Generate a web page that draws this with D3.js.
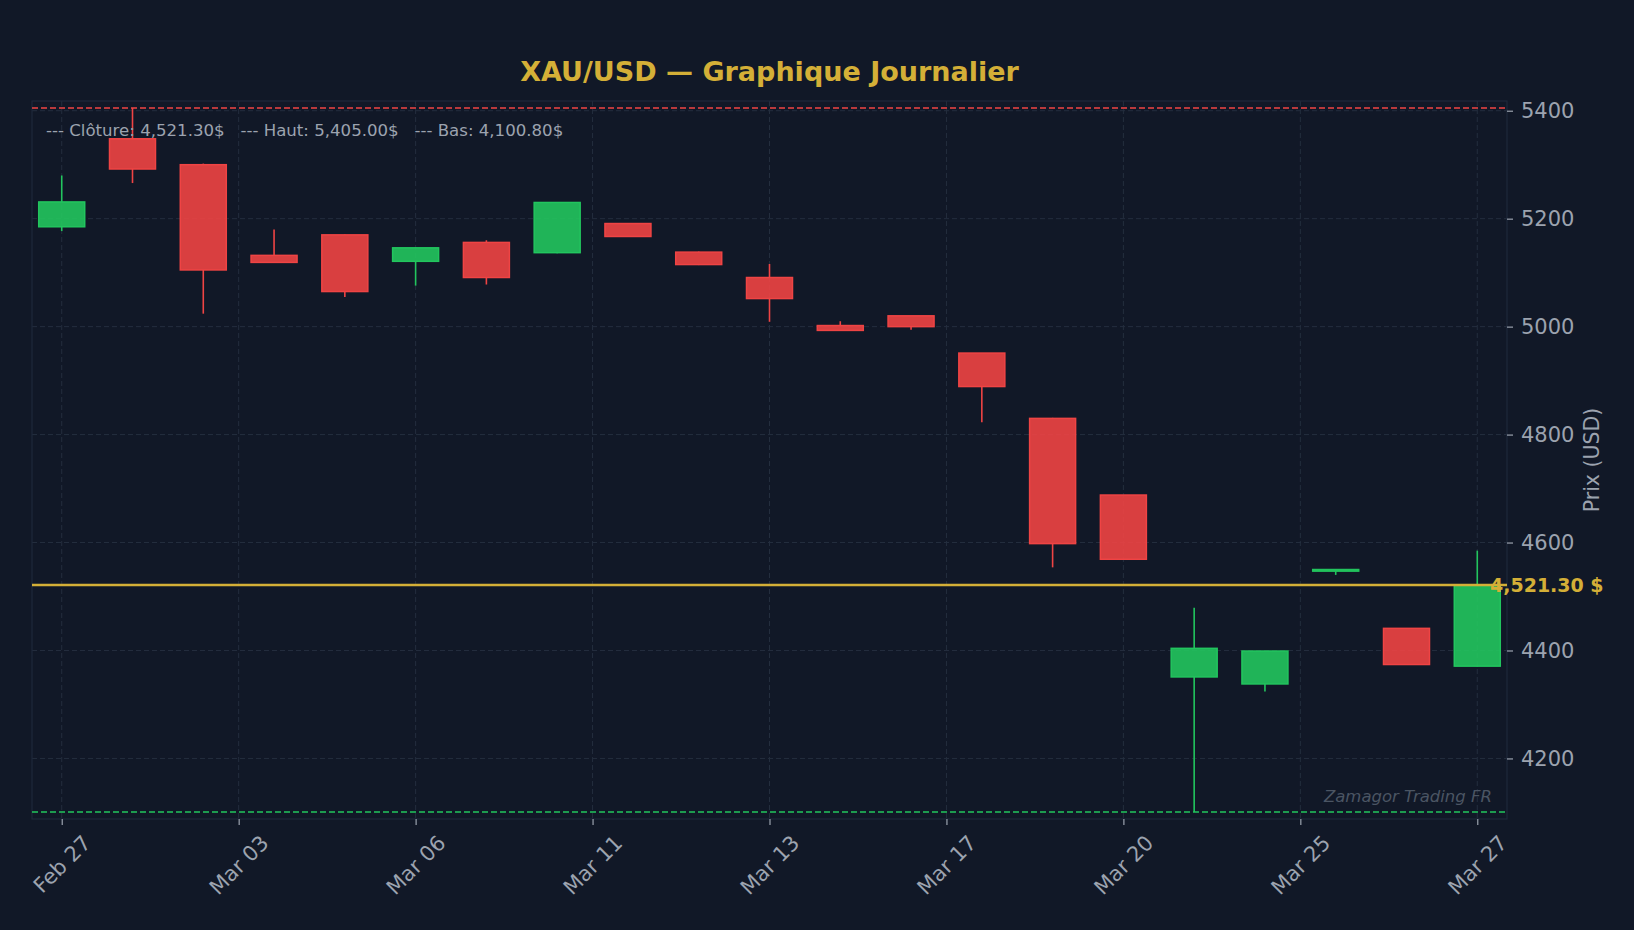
<!DOCTYPE html>
<html>
<head>
<meta charset="utf-8">
<script src="https://cdn.jsdelivr.net/npm/d3@7"></script>
<style>
  html, body { margin: 0; padding: 0; background: #111827; }
  svg { display: block; font-family: 'DejaVu Sans', sans-serif; }
  text { white-space: pre; }
</style>
</head>
<body>
<svg class="canvas" width="1634" height="930"></svg>
<script>
'use strict'

// Daily sessions, Feb 27 -> Mar 27
const dates = ['Feb 27', 'Mar 02', 'Mar 03', 'Mar 04', 'Mar 05', 'Mar 06', 'Mar 09',
  'Mar 10', 'Mar 11', 'Mar 12', 'Mar 13', 'Mar 16', 'Mar 17', 'Mar 18', 'Mar 19',
  'Mar 20', 'Mar 23', 'Mar 24', 'Mar 25', 'Mar 26', 'Mar 27']
const opens  = [5185, 5348, 5300, 5132, 5170, 5121, 5156, 5137, 5191, 5138, 5091,
  5002, 5020, 4951, 4830, 4688, 4351, 4338, 4547, 4441, 4371]
const highs  = [5280, 5405, 5302, 5180, 5171, 5147, 5160, 5231, 5192, 5139, 5116,
  5010, 5020, 4951, 4831, 4688, 4479, 4399, 4550, 4441, 4585]
const lows   = [5177, 5266, 5024, 5118, 5055, 5076, 5078, 5136, 5166, 5114, 5009,
  4992, 4994, 4823, 4554, 4568, 4100.8, 4324, 4540, 4374, 4370]
const closes = [5231, 5292, 5105, 5119, 5065, 5146, 5091, 5230, 5167, 5115, 5052,
  4993, 5000, 4889, 4598, 4569, 4404, 4399, 4550, 4374, 4521.3]

const tickPositions = [0, 2.5, 5, 7.5, 10, 12.5, 15, 17.5, 20]
const tickLabels = ['Feb 27', 'Mar 03', 'Mar 06', 'Mar 11', 'Mar 13', 'Mar 17', 'Mar 20', 'Mar 25', 'Mar 27']
const priceTicks = [4200, 4400, 4600, 4800, 5000, 5200, 5400]

const lastClose = 4521.30, periodHigh = 5405.00, periodLow = 4100.80

const candles = dates.map((date, i) => ({
  i, date, open: opens[i], high: highs[i], low: lows[i], close: closes[i]
}))

const plotLeft = 32, plotRight = 1507, plotTop = 101, plotBottom = 819
const up = '#22c55e', down = '#ef4444', gold = '#d4af37', muted = '#9ca3af', gridColor = '#242e3e'
const tickFont = 21

const x = d3.scaleLinear().domain([-0.42, 20.42]).range([plotLeft, plotRight])
const y = d3.scaleLinear().domain([4087.8, 5418.0]).range([plotBottom, plotTop])
const bodyWidth = x(0.65) - x(0)
const colorOf = d => (d.close >= d.open ? up : down)

const svg = d3.select('.canvas')

// Title
svg.append('text')
  .attr('x', (plotLeft + plotRight) / 2).attr('y', 81)
  .attr('text-anchor', 'middle')
  .attr('font-size', 27).attr('font-weight', 'bold')
  .attr('fill', gold)
  .text('XAU/USD — Graphique Journalier')

// Grid
const grid = svg.append('g')
grid.selectAll('.gx').data(tickPositions).enter().append('line')
  .attr('x1', d => x(d)).attr('x2', d => x(d))
  .attr('y1', plotTop).attr('y2', plotBottom)
  .attr('stroke', gridColor).attr('stroke-dasharray', '5,3')
grid.selectAll('.gy').data(priceTicks).enter().append('line')
  .attr('x1', plotLeft).attr('x2', plotRight)
  .attr('y1', d => y(d)).attr('y2', d => y(d))
  .attr('stroke', gridColor).attr('stroke-dasharray', '5,3')

// Frame
svg.append('rect')
  .attr('x', plotLeft).attr('y', plotTop)
  .attr('width', plotRight - plotLeft).attr('height', plotBottom - plotTop)
  .attr('fill', 'none').attr('stroke', '#1e293b').attr('stroke-width', 1.2)

// High / low reference lines
svg.append('line')
  .attr('x1', plotLeft).attr('x2', plotRight)
  .attr('y1', y(periodHigh)).attr('y2', y(periodHigh))
  .attr('stroke', down).attr('stroke-width', 1.5).attr('stroke-dasharray', '6,3')
svg.append('line')
  .attr('x1', plotLeft).attr('x2', plotRight)
  .attr('y1', y(periodLow)).attr('y2', y(periodLow))
  .attr('stroke', up).attr('stroke-width', 1.5).attr('stroke-dasharray', '6,3')

// Candles: upper wick, lower wick, body
const candle = svg.append('g').selectAll('g').data(candles).enter().append('g')
candle.append('line')
  .attr('x1', d => x(d.i)).attr('x2', d => x(d.i))
  .attr('y1', d => y(d.high)).attr('y2', d => y(Math.max(d.open, d.close)))
  .attr('stroke', colorOf).attr('stroke-width', 1.6)
candle.append('line')
  .attr('x1', d => x(d.i)).attr('x2', d => x(d.i))
  .attr('y1', d => y(Math.min(d.open, d.close))).attr('y2', d => y(d.low))
  .attr('stroke', colorOf).attr('stroke-width', 1.6)
candle.append('rect')
  .attr('x', d => x(d.i) - bodyWidth / 2)
  .attr('y', d => y(Math.max(d.open, d.close)))
  .attr('width', bodyWidth)
  .attr('height', d => Math.max(1, Math.abs(y(d.open) - y(d.close))))
  .attr('fill', colorOf)
  .attr('fill-opacity', 0.9)
  .attr('stroke', colorOf)
  .attr('stroke-width', 1.5)

// Last close line
svg.append('line')
  .attr('x1', plotLeft).attr('x2', plotRight)
  .attr('y1', y(lastClose)).attr('y2', y(lastClose))
  .attr('stroke', gold).attr('stroke-width', 2.5)

// Y axis on the right
const yAxis = d3.axisRight(y).tickValues(priceTicks)
  .tickFormat(d3.format('d')).tickSize(6).tickPadding(8)
const yg = svg.append('g').attr('transform', `translate(${plotRight}, 0)`).call(yAxis)
yg.select('.domain').remove()
yg.selectAll('line').attr('stroke', muted).attr('stroke-width', 1.2)
yg.selectAll('text').attr('fill', muted).attr('font-size', tickFont)
  .attr('font-family', "'DejaVu Sans', sans-serif")

// X axis, rotated labels
const xAxis = d3.axisBottom(x).tickValues(tickPositions)
  .tickFormat((d, i) => tickLabels[i]).tickSize(6)
const xg = svg.append('g').attr('transform', `translate(0, ${plotBottom})`).call(xAxis)
xg.select('.domain').remove()
xg.selectAll('line').attr('stroke', muted).attr('stroke-width', 1.2)
xg.selectAll('text')
  .attr('fill', muted).attr('font-size', tickFont)
  .attr('font-family', "'DejaVu Sans', sans-serif")
  .attr('text-anchor', 'middle')
  .attr('dy', null)
  .attr('dominant-baseline', 'central')
  .each(function () {
    const len = this.getComputedTextLength()
    const half = (len + tickFont) * Math.SQRT1_2 / 2
    d3.select(this).attr('y', 0)
      .attr('transform', `translate(0, ${13 + half}) rotate(-45)`)
  })

// Y label
svg.append('text')
  .attr('transform', `translate(1599, ${(plotTop + plotBottom) / 2}) rotate(-90)`)
  .attr('text-anchor', 'middle')
  .attr('font-size', 20.5).attr('fill', muted)
  .text('Prix (USD)')

// Last close tag
svg.append('text')
  .attr('x', 1490).attr('y', y(lastClose))
  .attr('dominant-baseline', 'central')
  .attr('font-size', 19).attr('font-weight', 'bold')
  .attr('fill', gold)
  .text('4,521.30 $')

// Legend text
svg.append('text')
  .attr('x', 46).attr('y', 136)
  .attr('font-size', 16.6).attr('fill', muted)
  .text('--- Clôture: 4,521.30$   --- Haut: 5,405.00$   --- Bas: 4,100.80$')

// Watermark
svg.append('text')
  .attr('x', 1492).attr('y', 802)
  .attr('text-anchor', 'end')
  .attr('font-size', 16.5).attr('font-style', 'italic')
  .attr('fill', '#4b5563')
  .text('Zamagor Trading FR')
</script>
</body>
</html>
